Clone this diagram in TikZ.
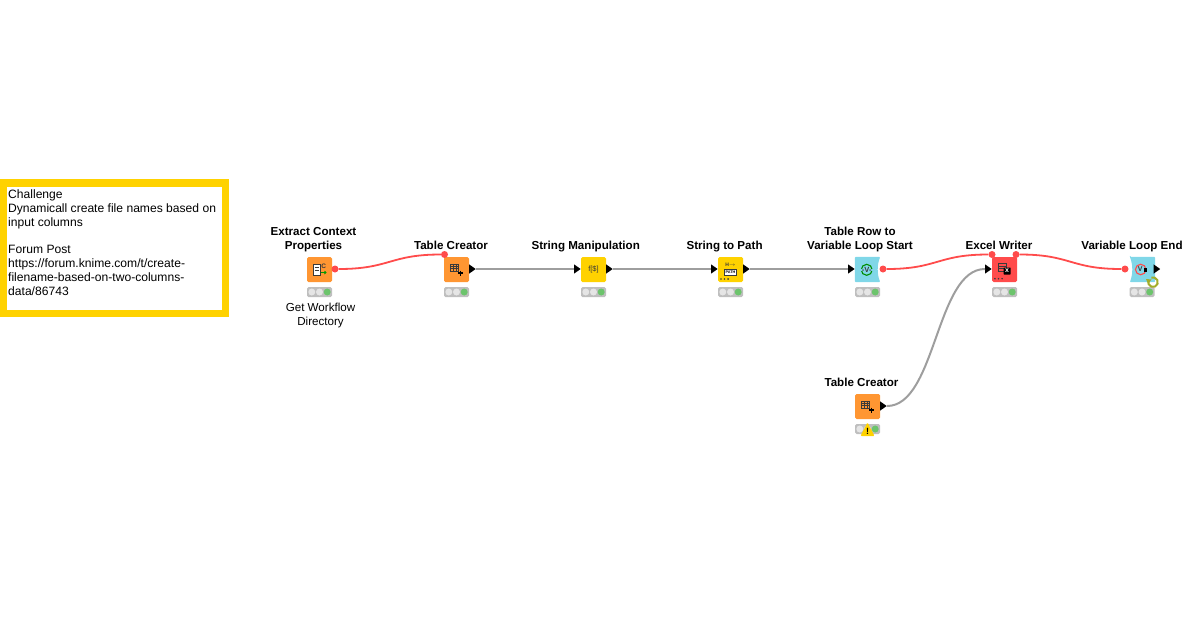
\documentclass[tikz,border=0pt]{standalone}
\usepackage{fontspec}
\setmainfont{Liberation Sans}
\usetikzlibrary{positioning,shapes.geometric}

\definecolor{knorange}{HTML}{FF9632}
\definecolor{knyellow}{HTML}{FFD200}
\definecolor{knred}{HTML}{FF4B4B}
\definecolor{kncyan}{HTML}{80D7E8}
\definecolor{kngreen}{HTML}{6CC46C}
\definecolor{kndark}{HTML}{3A3A3A}
\definecolor{knloop}{HTML}{A3AD2A}

\begin{document}
\begin{tikzpicture}[x=1pt,y=-1pt]
\tikzstyle{knode}=[shape=rectangle,rounded corners=1.5pt,minimum size=25pt,inner sep=0pt]
\tikzstyle{lbl}=[font=\bfseries\fontsize{11.6}{14}\selectfont,align=center,inner sep=0pt,text=black,anchor=south,text depth=2.5pt]
\tikzstyle{subl}=[font=\fontsize{11.6}{14}\selectfont,align=center,inner sep=0pt,text=black]
\tikzstyle{inport}=[shape=isosceles triangle,isosceles triangle apex angle=70,minimum height=6.5pt,minimum width=9pt,inner sep=0pt,fill=black,anchor=east]
\tikzstyle{outport}=[shape=isosceles triangle,isosceles triangle apex angle=70,minimum height=6.5pt,minimum width=9pt,inner sep=0pt,fill=black,anchor=west]
\tikzstyle{varport}=[shape=circle,minimum size=7pt,inner sep=0pt,fill=knred]
\tikzstyle{redwire}=[draw=knred,line width=1.8pt]
\tikzstyle{graywire}=[draw=black!38,line width=2pt]
\tikzset{
status/.pic={
  \fill[black!25,rounded corners=1.5pt] (-12.5,-5) rectangle (12.5,5);
  \fill[black!10] (-7.7,0) circle (3.5);
  \fill[black!10] (0,0) circle (3.5);
  \fill[kngreen] (7.7,0) circle (3.5);
},
tableicon/.pic={
  \draw[kndark,line width=.55pt] (-3.8,-3.7) rectangle (3.8,3.7)
    (-3.8,-1.2) -- (3.8,-1.2) (-3.8,1.2) -- (3.8,1.2)
    (-1.3,-3.7) -- (-1.3,3.7) (1.3,-3.7) -- (1.3,3.7);
  \draw[kndark,line width=1.2pt] (-3.8,-3.3) -- (3.8,-3.3);
  \draw[black,line width=1.1pt] (6,3) -- (6,8) (3.5,5.5) -- (8.5,5.5);
},
dots/.pic={
  \fill[kndark] (-3.6,0) circle (.9) (0,0) circle (.9) (3.6,0) circle (.9);
}}
\useasboundingbox (0,0) rectangle (1200,630);

% annotation
\fill[knyellow] (0,179) rectangle (229,317);
\fill[white] (7,187) rectangle (222,309.5);
\node[anchor=north west,inner sep=0pt,align=left,font=\fontsize{12.1}{13.85}\selectfont] (note) at (8,189.4) {Challenge\\Dynamicall create file names based on\\input columns\\[13.85pt]Forum Post\\https://forum.knime.com/t/create-\\filename-based-on-two-columns-\\data/86743};

% nodes
\node[knode,fill=knorange] (A) at (319.5,269.5) {};
\node[knode,fill=knorange] (B) at (456.5,269.5) {};
\node[knode,fill=knyellow] (C) at (593.5,269.5) {};
\node[knode,fill=knyellow] (D) at (730.5,269.5) {};
\node[knode] (E) at (867.5,269.5) {};
\node[knode,fill=knred] (F) at (1004.5,269.5) {};
\node[knode] (G) at (1142.5,269.5) {};
\node[knode,fill=knorange] (H) at (867.5,406.5) {};
\fill[kncyan,rounded corners=1pt] (E.north west) -- (E.north east) .. controls (877,265) and (877,274) .. (E.south east) -- (E.south west) -- cycle;
\fill[kncyan,rounded corners=1pt] (G.north west) -- (G.north east) -- (G.south east) -- (G.south west) .. controls (1133,274) and (1133,265) .. (G.north west) -- cycle;

% titles
\node[lbl] (Atitle) at (313.5,252.5) {Extract Context\\Properties};
\node[lbl] (Btitle) at (451,252.5) {Table Creator};
\node[lbl] (Ctitle) at (585.7,252.5) {String Manipulation};
\node[lbl] (Dtitle) at (724.6,252.5) {String to Path};
\node[lbl] (Etitle) at (860,252.5) {Table Row to\\Variable Loop Start};
\node[lbl] (Ftitle) at (999,252.5) {Excel Writer};
\node[lbl] (Gtitle) at (1132,252.5) {Variable Loop End};
\node[lbl] (Htitle) at (861.5,389.5) {Table Creator};
\node[subl] (Asub) at (320.5,315.5) {Get Workflow\\Directory};

% ports
\node[varport] (Aout) at (335,269) {};
\node[varport] (Bvar) at (444.5,254.5) {};
\node[outport] (Bout) at (469,269) {};
\node[inport] (Cin) at (581,269) {};
\node[outport] (Cout) at (606,269) {};
\node[inport] (Din) at (718,269) {};
\node[outport] (Dout) at (743,269) {};
\node[inport] (Ein) at (855,269) {};
\node[varport] (Eout) at (883,269) {};
\node[varport] (Fvar) at (992,254.5) {};
\node[inport] (Fin) at (992,269) {};
\node[varport] (Fout) at (1016,254.5) {};
\node[varport] (Gin) at (1125,269) {};
\node[outport] (Gout) at (1153.5,269) {};
\node[outport] (Hout) at (880,406) {};

% connections
\draw[redwire] (Aout) .. controls +(55,0) and +(-55,0) .. (Bvar);
\draw[graywire] (Bout) -- (Cin);
\draw[graywire] (Cout) -- (Din);
\draw[graywire] (Dout) -- (Ein);
\draw[redwire] (Eout) .. controls +(55,0) and +(-55,0) .. (Fvar);
\draw[redwire] (Fout) .. controls +(55,0) and +(-55,0) .. (Gin);
\draw[graywire] (Hout.east) .. controls +(49,0) and +(-49,0) .. (Fin.west);

% status lights
\path (319.5,292) pic {status};
\path (456.5,292) pic {status};
\path (593.5,292) pic {status};
\path (730.5,292) pic {status};
\path (867.5,292) pic {status};
\path (1004.5,292) pic {status};
\path (1142,292) pic {status};
\path (867.5,429) pic {status};
\fill[knyellow,rounded corners=1pt] (860.5,436) -- (867.5,422.5) -- (874.5,436) -- cycle;
\node[font=\bfseries\fontsize{9}{9}\selectfont,inner sep=0pt] (warnmark) at (867.5,431) {!};

% icons
\fill[white] (313.5,264) rectangle (320,275);
\draw[kndark,line width=.8pt] (313.5,264) rectangle (320,275);
\draw[kndark,line width=1pt] (314.5,267.5) -- (319,267.5) (314.5,270) -- (319,270);
\node[font=\bfseries\fontsize{6.5}{6}\selectfont,inner sep=0pt,text=kndark] (Aicon) at (323.7,266.5) {C};
\draw[green!60!black,line width=.9pt] (321,272.5) -- (326,272.5) (324.5,271) -- (326,272.5) -- (324.5,274);
\path (454.5,267.5) pic {tableicon};
\path (865.5,404.5) pic {tableicon};
\node[font=\fontsize{7.5}{8}\selectfont,inner sep=0pt,text=kndark] (Cicon) at (593.5,269.5) {f[\$]};
\node[font=\bfseries\fontsize{5}{5}\selectfont,inner sep=0pt,text=kndark] (Dicon) at (730.5,265) {H$\rightarrow$};
\node[draw=kndark,line width=.8pt,fill=white,minimum width=12.5pt,minimum height=5.5pt,inner sep=0pt,font=\bfseries\fontsize{3.8}{4}\selectfont] (Dbox) at (730.5,272.3) {PATH};
\path (724.5,279) pic {dots};
\draw[kndark,line width=.8pt] (998,263.5) rectangle (1006,271) (998,266) -- (1006,266) (998,268.5) -- (1004,268.5);
\node[fill=black,text=white,rounded corners=.5pt,minimum size=7pt,inner sep=0pt,font=\bfseries\fontsize{7}{7}\selectfont] (Ficon) at (1007,271) {x};
\path (998.5,278.7) pic {dots};
\node[draw=green!55!black,circle,line width=1.1pt,minimum size=11pt,inner sep=0pt] (Ering) at (866.7,269.8) {};
\fill[kncyan] (859,268.5) rectangle (875,271);
\node[font=\bfseries\fontsize{7.5}{7}\selectfont,inner sep=0pt,text=kndark] (Eicon) at (866.7,269.8) {-V-};
\node[draw=knred,circle,line width=1.1pt,minimum size=10.5pt,inner sep=0pt] (Gring) at (1140.7,269.5) {};
\node[font=\bfseries\fontsize{7}{7}\selectfont,inner sep=0pt,text=kndark] (Gicon) at (1140.3,269.5) {V};
\fill[black] (1144,267.5) rectangle (1147,271.5);
\draw[knloop,line width=2pt] (1148.5,280.5) arc (200:-110:4.8);
\fill[knloop] (1146,279) -- (1151.5,279.5) -- (1148,284) -- cycle;
\end{tikzpicture}
\end{document}
